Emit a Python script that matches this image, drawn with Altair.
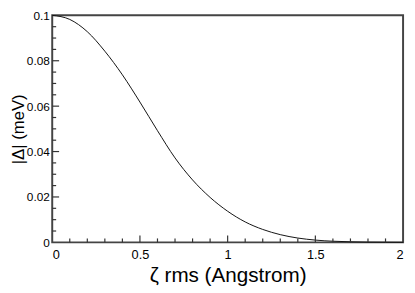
import altair as alt
import pandas as pd

# Curve values
zeta_rms = [0.0, 0.1, 0.2, 0.3, 0.4, 0.5, 0.6, 0.7, 0.8, 0.9, 1.0,
            1.1, 1.2, 1.3, 1.4, 1.5, 1.6, 1.7, 1.8, 1.9, 2.0]
delta_abs = [0.1, 0.0982, 0.0928, 0.0842, 0.0738, 0.0618, 0.0492, 0.0372, 0.0275, 0.0198, 0.0137,
             0.009, 0.0057, 0.0034, 0.0019, 0.001, 0.0005, 0.00025, 0.0001, 0.00005, 0.00002]

# Axis tick positions
x_major = [0.5, 1.0, 1.5]
x_minor = [0.1, 0.2, 0.3, 0.4, 0.6, 0.7, 0.8, 0.9, 1.1, 1.2, 1.3, 1.4, 1.6, 1.7, 1.8, 1.9]
y_major = [0.02, 0.04, 0.06, 0.08]
y_minor = [0.005, 0.01, 0.015, 0.025, 0.03, 0.035, 0.045, 0.05, 0.055,
           0.065, 0.07, 0.075, 0.085, 0.09, 0.095]
x_labels = [0, 0.5, 1, 1.5, 2]
y_labels = [0, 0.02, 0.04, 0.06, 0.08, 0.1]

W, H = 357, 231
FONT = "Liberation Sans"
TICK = "#333333"

df = pd.DataFrame({"x": zeta_rms, "y": delta_abs})

xscale = alt.Scale(domain=[0, 2], nice=False, zero=False)
yscale = alt.Scale(domain=[0, 0.1], nice=False, zero=False)

line = alt.Chart(df).mark_line(color="#111111", strokeWidth=1, interpolate="monotone").encode(
    x=alt.X("x:Q", scale=xscale,
            axis=alt.Axis(values=x_labels, format=".2~f", title="ζ rms (Angstrom)",
                          titleY=40, titleBaseline="alphabetic", titleFontSize=21,
                          labelFontSize=13, labelPadding=6)),
    y=alt.Y("y:Q", scale=yscale,
            axis=alt.Axis(values=y_labels, format=".2~f", title="|Δ| (meV)",
                          titleX=-29, titleBaseline="alphabetic", titleFontSize=17,
                          labelFontSize=12, labelPadding=3)),
)

xmaj = alt.Chart(pd.DataFrame({"x": x_major})).mark_rule(color=TICK, strokeWidth=1.2).encode(
    x=alt.X("x:Q", scale=xscale), y=alt.value(H), y2=alt.value(H - 7))
xmin = alt.Chart(pd.DataFrame({"x": x_minor})).mark_rule(color=TICK, strokeWidth=1.2).encode(
    x=alt.X("x:Q", scale=xscale), y=alt.value(H), y2=alt.value(H - 4))
ymaj = alt.Chart(pd.DataFrame({"y": y_major})).mark_rule(color=TICK, strokeWidth=1.2).encode(
    y=alt.Y("y:Q", scale=yscale), x=alt.value(0), x2=alt.value(7))
ymin = alt.Chart(pd.DataFrame({"y": y_minor})).mark_rule(color=TICK, strokeWidth=1.2).encode(
    y=alt.Y("y:Q", scale=yscale), x=alt.value(0), x2=alt.value(4))

chart = alt.layer(line, xmaj, xmin, ymaj, ymin).properties(
    width=W, height=H,
    autosize=alt.AutoSizeParams(type="none"),
    padding={"left": 45, "top": 5, "right": 4, "bottom": 46},
).configure_view(
    stroke="#444444", strokeWidth=2
).configure_axis(
    grid=False, ticks=False, domain=False,
    labelFont=FONT, labelColor="#000000",
    titleFont=FONT, titleColor="#000000", titleFontWeight="normal",
)

chart.save("out.html", embed_options={"renderer": "svg", "actions": False})
